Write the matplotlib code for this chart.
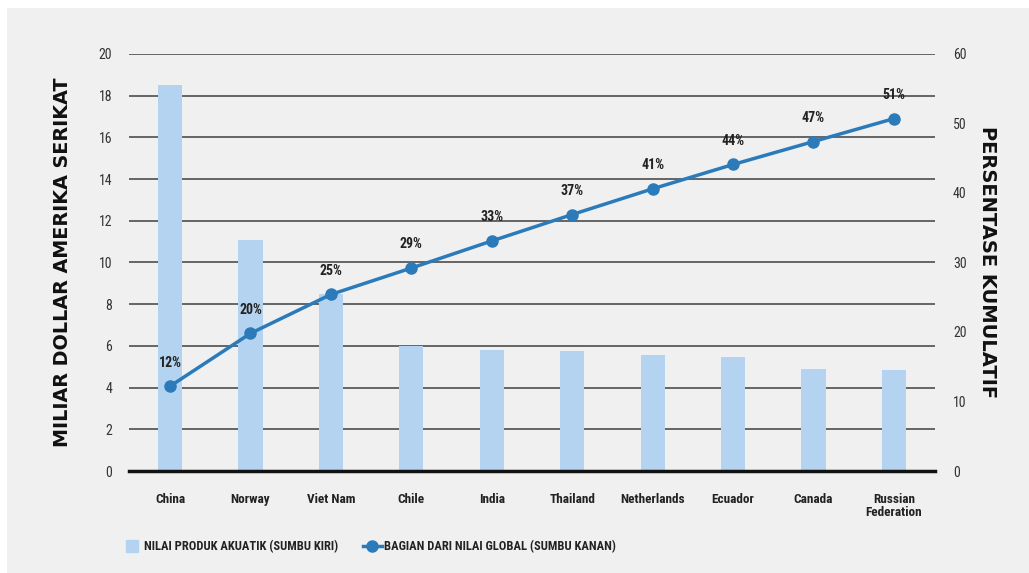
import matplotlib.pyplot as plt
from matplotlib.patches import Rectangle
from matplotlib.lines import Line2D
import numpy as np

countries = ['China', 'Norway', 'Viet Nam', 'Chile', 'India', 'Thailand',
             'Netherlands', 'Ecuador', 'Canada', 'Russian\nFederation']
value_bn = [18.5, 11.1, 8.5, 6.0, 5.8, 5.75, 5.55, 5.45, 4.9, 4.85]
cum_share = [12.2, 19.8, 25.4, 29.2, 33.1, 36.9, 40.6, 44.1, 47.4, 50.7]
share_labels = ['12%', '20%', '25%', '29%', '33%', '37%', '41%', '44%', '47%', '51%']

narrow = ['Liberation Sans Narrow', 'Roboto Condensed', 'DejaVu Sans Condensed', 'Roboto']
bar_col = '#b3d3f0'
line_col = '#2b7bbb'
bg = '#f0f0f0'

fig = plt.figure(figsize=(10.29, 5.73), dpi=100, facecolor='white')
fig.patches.append(Rectangle((7 / 1029, 0), 1, 1 - 8 / 573, transform=fig.transFigure,
                             facecolor=bg, edgecolor='none', zorder=-10))

ax = fig.add_axes([0.1254, 0.178, 0.7832, 0.7278])
ax.set_facecolor(bg)
x = np.arange(len(countries))

ax.set_ylim(0, 20)
ax.set_yticks(np.arange(0, 21, 2))
ax.set_xlim(-0.51, 9.51)
ax.grid(axis='y', color='#5a5a5a', lw=1.3, zorder=0)
ax.set_axisbelow(True)
ax.bar(x, value_bn, width=0.3, color=bar_col, zorder=2)

for s in ['top', 'left', 'right']:
    ax.spines[s].set_visible(False)
ax.spines['bottom'].set_color('#111111')
ax.spines['bottom'].set_linewidth(2.5)
ax.spines['bottom'].set_zorder(3)

ax.set_xticks(x)
ax.set_xticklabels(countries, family=narrow, fontweight='bold', fontsize=9.5,
                   color='#222222', linespacing=1.0)
ax.tick_params(axis='x', length=0, pad=16)
ax.tick_params(axis='y', length=0, pad=12, labelsize=10, labelcolor='#333333')
for t in ax.get_yticklabels():
    t.set_family(narrow)

ax.set_ylabel('MILIAR DOLLAR AMERIKA SERIKAT', fontsize=13.8, fontweight='bold',
              family='DejaVu Sans', color='#111111', labelpad=19)

ax2 = ax.twinx()
ax2.set_ylim(0, 60)
ax2.set_yticks(np.arange(0, 61, 10))
for s in ax2.spines.values():
    s.set_visible(False)
ax2.tick_params(axis='y', length=0, pad=13, labelsize=10, labelcolor='#333333')
for t in ax2.get_yticklabels():
    t.set_family(narrow)
ax2.plot(x, cum_share, color=line_col, lw=2.5, marker='o', ms=8, zorder=4)
for xi, yi, lab in zip(x, cum_share, share_labels):
    ax2.annotate(lab, (xi, yi), xytext=(0, 12), textcoords='offset points',
                 ha='center', va='bottom', fontsize=10, fontweight='bold',
                 family=narrow, color='#222222')
ax2.set_ylabel('PERSENTASE KUMULATIF', fontsize=14, fontweight='bold',
               family='DejaVu Sans', color='#111111', rotation=270,
               labelpad=22)

handles = [Line2D([], [], color=bar_col, marker='s', ls='none', ms=9),
           Line2D([], [], color=line_col, lw=2.5, marker='o', ms=8)]
leg = fig.legend(handles, ['NILAI PRODUK AKUATIK (SUMBU KIRI)',
                           'BAGIAN DARI NILAI GLOBAL (SUMBU KANAN)'],
                 loc='center left', bbox_to_anchor=(0.108, 0.046), ncol=2,
                 frameon=False, handlelength=1.5, handletextpad=0.2,
                 columnspacing=2.0,
                 prop={'family': narrow, 'weight': 'bold', 'size': 9})
for t in leg.get_texts():
    t.set_color('#222222')

fig.savefig('out.png', dpi=100, facecolor=fig.get_facecolor())
